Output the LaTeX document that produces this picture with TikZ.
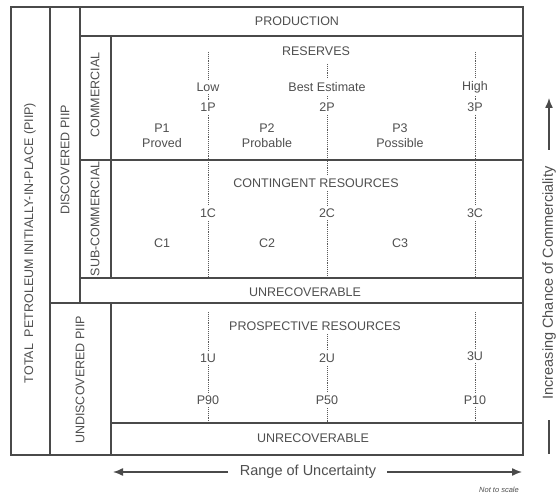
\documentclass[tikz,border=0pt]{standalone}
\usepackage{fontspec}
\setmainfont{Liberation Sans}
\usetikzlibrary{arrows.meta}
\definecolor{linec}{HTML}{4A4A4A}
\definecolor{txtc}{HTML}{4F4F4F}
\definecolor{dotc}{HTML}{5A5A5A}
\tikzset{
  frame/.style={draw=linec, line width=1.6pt},
  lbl/.style={text=txtc, font=\fontsize{12.5}{15}\selectfont, inner xsep=2pt, inner ysep=3pt, fill=white},
  vlbl/.style={text=txtc, font=\fontsize{12.5}{15}\selectfont, inner sep=1pt, rotate=90},
  dots/.style={draw=dotc, line width=1pt, dash pattern=on 1pt off 0.9pt},
  bigarrow/.style={draw=linec, line width=1.4pt},
  bigtxt/.style={text=txtc, font=\fontsize{14.5}{17}\selectfont, inner sep=1pt}
}
\begin{document}
\begin{tikzpicture}[x=1pt,y=-1pt]
\useasboundingbox (0,0) rectangle (557,497);
\fill[white] (0,0) rectangle (557,497);
% dotted uncertainty lines
\draw[dots] (208,52) -- (208,278);
\draw[dots] (327,64) -- (327,278);
\draw[dots] (475,52) -- (475,278);
\draw[dots] (208,312) -- (208,423);
\draw[dots] (327,334) -- (327,423);
\draw[dots] (475,312) -- (475,423);
% frames
\draw[frame] (11,7) rectangle (523,455);
\draw[frame] (50,7) -- (50,455);
\draw[frame] (80,7) -- (80,303);
\draw[frame] (50,303) -- (523,303);
\draw[frame] (80,36) -- (523,36);
\draw[frame] (111,36) -- (111,278);
\draw[frame] (80,160) -- (523,160);
\draw[frame] (80,278) -- (523,278);
\draw[frame] (111,303) -- (111,455);
\draw[frame] (111,423) -- (523,423);
% side labels
\node[vlbl] (total) at (30,243) {TOTAL\ \ PETROLEUM INITIALLY-IN-PLACE (PIIP)};
\node[vlbl] (disc) at (65,160) {DISCOVERED PIIP};
\node[vlbl] (comm) at (95,95) {COMMERCIAL};
\node[vlbl] (subcomm) at (95,219) {SUB-COMMERCIAL};
\node[vlbl] (undisc) at (80,380) {UNDISCOVERED PIIP};
% production
\node[lbl] (prod) at (297,21) {PRODUCTION};
% reserves
\node[lbl] (res) at (316,51) {RESERVES};
\node[lbl] (low) at (208,87) {Low};
\node[lbl] (best) at (327,87) {Best Estimate};
\node[lbl] (high) at (475,87) {High};
\node[lbl] (p1p) at (208,107) {1P};
\node[lbl] (p2p) at (327,107) {2P};
\node[lbl] (p3p) at (475,107) {3P};
\node[lbl, align=center] (p1) at (162,136) {P1\\Proved};
\node[lbl, align=center] (p2) at (267,136) {P2\\Probable};
\node[lbl, align=center] (p3) at (400,136) {P3\\Possible};
% contingent
\node[lbl] (cont) at (316,183) {CONTINGENT RESOURCES};
\node[lbl] (c1c) at (208,213) {1C};
\node[lbl] (c2c) at (327,213) {2C};
\node[lbl] (c3c) at (475,213) {3C};
\node[lbl] (c1) at (162,243) {C1};
\node[lbl] (c2) at (267,243) {C2};
\node[lbl] (c3) at (400,243) {C3};
\node[lbl] (unrec1) at (305,292) {UNRECOVERABLE};
% prospective
\node[lbl] (pros) at (315,326) {PROSPECTIVE RESOURCES};
\node[lbl] (u1) at (208,358) {1U};
\node[lbl] (u2) at (327,358) {2U};
\node[lbl] (u3) at (475,356) {3U};
\node[lbl] (p90) at (208,400) {P90};
\node[lbl] (p50) at (327,400) {P50};
\node[lbl] (p10) at (475,400) {P10};
\node[lbl] (unrec2) at (313,438) {UNRECOVERABLE};
% range of uncertainty
\node[bigtxt] (range) at (308,472) {Range of Uncertainty};
\coordinate (rl0) at (228,472);
\coordinate (rl1) at (113,472);
\coordinate (rr0) at (387,472);
\coordinate (rr1) at (522,472);
\draw[bigarrow, -{Latex[length=10pt,width=8pt]}] (rl0) -- (rl1);
\draw[bigarrow, -{Latex[length=10pt,width=8pt]}] (rr0) -- (rr1);
\node[text=txtc, font=\fontsize{7.5}{9}\selectfont\itshape, inner sep=0pt] (nts) at (499,490) {Not to scale};
% increasing chance
\node[bigtxt, rotate=90] (inc) at (549,283) {Increasing Chance of Commerciality};
\coordinate (iu0) at (549,150);
\coordinate (iu1) at (549,98);
\coordinate (id0) at (549,420);
\coordinate (id1) at (549,454);
\draw[bigarrow, -{Latex[length=10pt,width=8pt]}] (iu0) -- (iu1);
\draw[bigarrow] (id0) -- (id1);
\end{tikzpicture}
\end{document}
